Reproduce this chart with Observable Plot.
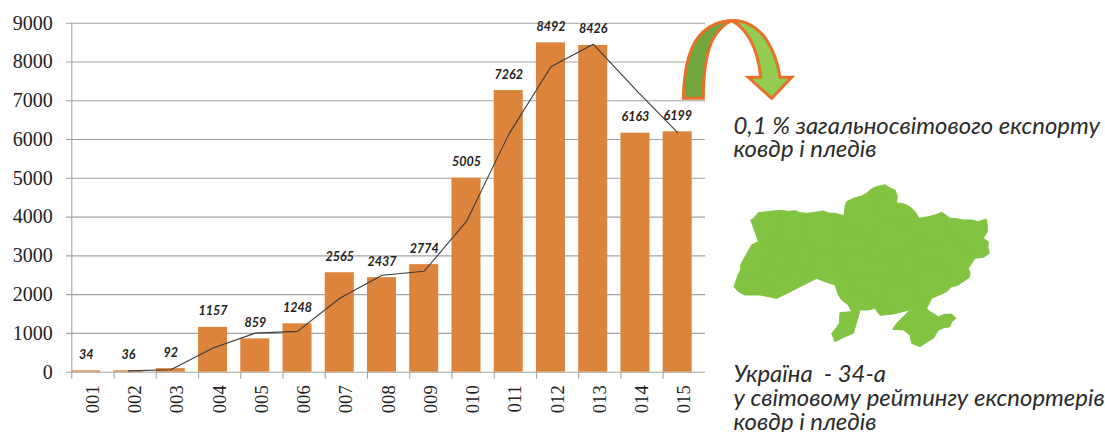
<!DOCTYPE html>
<html>
<head>
<meta charset="utf-8">
<script src="https://cdn.jsdelivr.net/npm/d3@7"></script>
<script src="https://cdn.jsdelivr.net/npm/@observablehq/plot@0.6"></script>
<style>
html,body{margin:0;padding:0;background:#fff}
svg{display:block}
</style>
</head>
<body>
<div id="chart"></div>
<script>
const years = ["001","002","003","004","005","006","007","008","009","010","011","012","013","014","015"];
const exportValues = [34,36,92,1157,859,1248,2565,2437,2774,5005,7262,8492,8426,6163,6199];
const trendYears = ["002","003","004","005","006","007","008","009","010","011","012","013","014","015"];
const trendValues = [35,64,625,1008,1054,1906,2501,2605,3889,6133,7877,8459,7294,6181];
const yTicks = [0,1000,2000,3000,4000,5000,6000,7000,8000,9000];
const noteTop = "0,1 % загальносвітового експорту\nковдр і пледів";
const noteBottom = "Україна  - 34-а\nу світовому рейтингу експортерів\nковдр і пледів";

// decorative pictures, in 3x crop coordinates
const arrowLeft = "M40,295 C42,200 60,130 100,95 C125,72 155,62 185,62 C160,72 140,95 125,125 C108,165 100,230 100,295 Z";
const arrowRight = "M185,62 C225,60 265,82 290,120 C312,155 325,195 330,232 L365,232 L305,295 L235,232 L272,232 C268,190 258,150 240,118 C225,92 205,72 185,62 Z";
const mapOutline = "M92,150 L100,146 L115,128 L150,124 L180,121 L205,124 L225,122 L240,128 L262,130 L285,127 L310,123 L325,129 L345,130 L372,137 L375,110 L380,95 L400,85 L425,78 L440,70 L455,56 L470,50 L495,44 L510,54 L525,60 L532,78 L530,100 L545,100 L560,105 L575,115 L585,125 L597,145 L625,140 L645,135 L665,127 L680,137 L690,145 L710,146 L730,150 L755,150 L775,155 L798,147 L802,165 L802,185 L790,205 L805,215 L804,232 L808,250 L790,262 L765,265 L755,280 L745,295 L750,310 L748,322 L725,338 L715,345 L695,350 L680,365 L665,372 L645,380 L635,385 L628,400 L620,415 L630,425 L642,432 L655,440 L675,433 L695,432 L708,445 L695,455 L690,470 L670,474 L655,480 L640,505 L622,515 L600,530 L575,520 L570,495 L550,480 L518,478 L530,460 L540,450 L565,425 L590,418 L560,422 L520,432 L480,436 L465,415 L445,420 L420,420 L412,450 L400,490 L375,500 L345,515 L335,490 L350,472 L358,460 L360,428 L395,425 L385,405 L365,390 L355,375 L345,345 L315,335 L290,325 L240,350 L205,368 L170,385 L120,375 L75,375 L55,365 L42,350 L55,312 L62,300 L62,285 L75,260 L95,225 L115,215 L105,185 L92,150 Z";
const mapBorders = [
"M262,130 L250,175 L255,205 L295,245 L345,240",
"M180,130 L190,170 L170,208 L120,218",
"M170,208 L215,228 L250,205",
"M345,135 L345,190 L355,240 L350,280 L365,305",
"M215,228 L215,270 L240,300 L275,325",
"M280,245 L275,300",
"M145,275 L160,250 L215,228",
"M60,310 L110,320 L145,275 L190,310 L160,340 L170,385",
"M110,320 L160,340",
"M190,310 L240,300",
"M378,135 L385,172 L420,190 L445,190",
"M480,70 L475,130 L490,155 L560,165 L600,145",
"M450,190 L490,155",
"M445,190 L470,225 L490,240 L530,262",
"M360,265 L430,235 L470,225",
"M560,165 L595,205 L570,235 L530,262",
"M595,205 L640,230 L690,195 L695,150",
"M690,195 L755,260",
"M570,235 L600,270 L660,270 L690,330",
"M365,305 L395,320 L465,315 L500,340 L520,335",
"M430,255 L460,270 L510,265 L530,262",
"M530,262 L525,330 L560,330 L590,300 L660,285",
"M395,320 L410,370 L450,380 L460,410",
"M500,340 L490,390 L500,415",
"M570,335 L610,400",
"M590,300 L600,340 L570,335",
"M372,182 L385,180 L398,186 L392,198 L378,196 Z",
"M465,418 L480,405 L495,412 M470,425 L500,430 L520,425"
];

const bars = years.map((year, i) => ({year, value: exportValues[i]}));
const trend = trendYears.map((year, i) => ({year, value: trendValues[i]}));
const barShift = -6.6, edgeShift = -21.12, gridColor = "#a3a3a3";
const serif = "'Liberation Serif', serif";
const noteFont = "Lato, 'Open Sans', sans-serif";

function pictures() {
  const g = d3.create("svg:g");
  const arrow = g.append("g").attr("transform", "translate(670,0) scale(0.33333)")
    .attr("stroke", "#E8702A").attr("stroke-width", 9).attr("stroke-linejoin", "miter");
  arrow.append("path").attr("d", arrowRight).attr("fill", "#92CC50");
  arrow.append("path").attr("d", arrowLeft).attr("fill", "#70A63D");
  const map = g.append("g").attr("transform", "translate(720,170) scale(0.33333)");
  map.append("path").attr("d", mapOutline).attr("fill", "#82C341").attr("stroke", "#82C341").attr("stroke-width", 3).attr("stroke-linejoin", "round");
  map.append("g").attr("fill", "none").attr("stroke", "#7ABF40").attr("stroke-width", 1.8)
    .selectAll("path").data(mapBorders).join("path").attr("d", d => d);
  return g.node();
}

const chart = Plot.plot({
  width: 1105,
  height: 432,
  marginLeft: 66,
  marginRight: 400,
  marginTop: 22.7,
  marginBottom: 60.3,
  style: {background: "#fff", overflow: "visible"},
  x: {type: "band", domain: years, range: [71.3, 704.9], paddingInner: 0.313, paddingOuter: 0.1565, round: false, label: null},
  y: {domain: [0, 9000], range: [371.7, 22.7], label: null},
  marks: [
    Plot.gridY(yTicks, {stroke: gridColor, strokeOpacity: 1, strokeWidth: 1.1}),
    Plot.ruleX(years.slice(0, 1), {x: d => d, y1: 0, y2: 9000, dx: edgeShift, stroke: gridColor, strokeWidth: 1.1}),
    Plot.ruleX(years, {x: d => d, y1: 0, y2: -180, dx: edgeShift, stroke: gridColor, strokeWidth: 1.1}),
    Plot.barY(bars, {x: "year", y: "value", dx: barShift, fill: "#DD843C"}),
    Plot.line(trend, {x: "year", y: "value", dx: barShift, stroke: "#3c3c3c", strokeWidth: 1.1}),
    Plot.text(bars, {x: "year", y: "value", text: d => String(d.value), dx: barShift, dy: -16, fontSize: 12.5, fontWeight: "bold", fontStyle: "italic", fontFamily: noteFont, fill: "#222"}),
    Plot.axisY(yTicks, {tickSize: 0, tickPadding: 13.7, tickFormat: d => String(d), fontSize: 20, fontFamily: serif, fill: "#222", label: null}),
    Plot.axisX(years, {tickSize: 0, tickPadding: 13, tickRotate: -90, fontSize: 18.7, fontFamily: serif, fill: "#222", label: null}),
    pictures,
    Plot.text([noteTop], {text: d => d, frameAnchor: "top-left", lineAnchor: "top", textAnchor: "start", dx: 667, dy: 93.8, lineHeight: 0.98, fontSize: 23.9, fontStyle: "italic", fontFamily: noteFont, fill: "#2b2b2b"}),
    Plot.text([noteBottom], {text: d => d, frameAnchor: "top-left", lineAnchor: "top", textAnchor: "start", dx: 667, dy: 342, lineHeight: 1.0, fontSize: 23.9, fontStyle: "italic", fontFamily: noteFont, fill: "#2b2b2b"})
  ]
});
document.getElementById("chart").append(chart);
</script>
</body>
</html>
